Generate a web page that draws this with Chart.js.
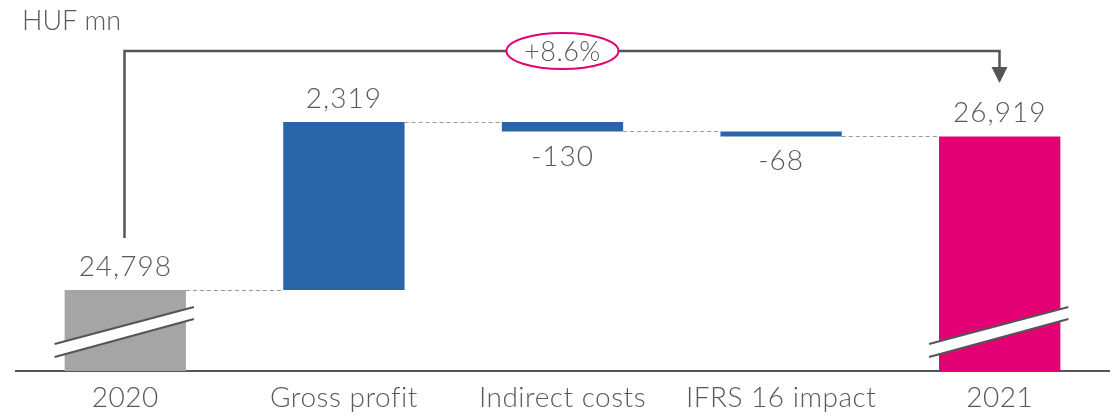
<!DOCTYPE html>
<html><head><meta charset="utf-8">
<script src="https://cdn.jsdelivr.net/npm/chart.js@4"></script>
<style>html,body{margin:0;padding:0;background:#fff}</style>
</head><body>
<canvas id="c" width="1118" height="417"></canvas>
<script>
// ---- data ----
const categories = ['2020', 'Gross profit', 'Indirect costs', 'IFRS 16 impact', '2021'];
const startValue = 24798;
const changes = [2319, -130, -68];
const endValue = 26919;
const valueLabels = ['24,798', '2,319', '-130', '-68', '26,919'];
const growthLabel = '+8.6%';
const unitLabel = 'HUF mn';
const axisMin = 23680;
const axisMax = 28250;

// ---- derived floating bars ----
const floating = [[0, startValue]];
let run = startValue;
changes.forEach(c => { floating.push([run, run + c]); run += c; });
floating.push([0, endValue]);
const levels = [startValue];
{ let r = startValue; changes.forEach(c => { r += c; levels.push(r); }); }

const colors = ['#a5a5a5', '#2965a9', '#2965a9', '#2965a9', '#e20074'];
const TEXT = '#595959';
const LINE = '#555555';
const FAMILY = 'Lato, "Open Sans", sans-serif';
const FONT = '300 28px ' + FAMILY;

const deco = {
  id: 'deco',
  beforeDraw(chart) {
    const ctx = chart.ctx;
    ctx.save(); ctx.fillStyle = '#fff'; ctx.fillRect(0, 0, chart.width, chart.height); ctx.restore();
    ctx.letterSpacing = '0.5px';
  },
  afterDatasetsDraw(chart) {
    const ctx = chart.ctx;
    const ys = chart.scales.y;
    const area = chart.chartArea;
    const bars = chart.getDatasetMeta(0).data;
    ctx.save();
    // connectors
    ctx.strokeStyle = '#9a9a9a'; ctx.lineWidth = 1; ctx.setLineDash([4, 3]);
    for (let i = 0; i < bars.length - 1; i++) {
      const y = Math.round(ys.getPixelForValue(levels[i])) + 0.5;
      ctx.beginPath();
      ctx.moveTo(bars[i].x + bars[i].width / 2, y);
      ctx.lineTo(bars[i + 1].x - bars[i + 1].width / 2, y);
      ctx.stroke();
    }
    ctx.setLineDash([]);
    // break marks
    [0, bars.length - 1].forEach(i => {
      const b = bars[i];
      const x1 = b.x - b.width / 2 - 10, x2 = b.x + b.width / 2 + 8;
      const base = area.bottom;
      const t1 = base - 27, t2 = base - 64, u1 = base - 14, u2 = base - 52;
      ctx.fillStyle = '#fff';
      ctx.beginPath();
      ctx.moveTo(x1, t1); ctx.lineTo(x2, t2); ctx.lineTo(x2, u2); ctx.lineTo(x1, u1); ctx.closePath();
      ctx.fill();
      ctx.strokeStyle = LINE; ctx.lineWidth = 2;
      ctx.beginPath(); ctx.moveTo(x1, t1); ctx.lineTo(x2, t2); ctx.stroke();
      ctx.beginPath(); ctx.moveTo(x1, u1); ctx.lineTo(x2, u2); ctx.stroke();
    });
    // value labels
    ctx.font = FONT; ctx.fillStyle = TEXT; ctx.textAlign = 'center'; ctx.textBaseline = 'middle';
    ctx.letterSpacing = '1px';
    floating.forEach((v, i) => {
      const top = ys.getPixelForValue(Math.max(v[0], v[1]));
      const bot = ys.getPixelForValue(Math.min(v[0], v[1]));
      const neg = i > 0 && i < floating.length - 1 && v[1] < v[0];
      const y = neg ? bot + 25 : top - 23;
      ctx.fillText(valueLabels[i], bars[i].x, y);
    });
    // bracket
    const by = 51;
    const xl = Math.round(bars[0].x) - 0.5;
    const xr = Math.round(bars[bars.length - 1].x) - 0.5;
    const startY = ys.getPixelForValue(startValue) - 52;
    ctx.strokeStyle = LINE; ctx.lineWidth = 2.5;
    ctx.beginPath();
    ctx.moveTo(xl, startY); ctx.lineTo(xl, by); ctx.lineTo(xr, by); ctx.lineTo(xr, 68);
    ctx.stroke();
    ctx.fillStyle = LINE;
    ctx.beginPath(); ctx.moveTo(xr - 8, 67); ctx.lineTo(xr + 8, 67); ctx.lineTo(xr, 83); ctx.closePath(); ctx.fill();
    // ellipse
    const ex = bars[2].x;
    ctx.fillStyle = '#fff'; ctx.strokeStyle = '#e20074'; ctx.lineWidth = 2;
    ctx.beginPath(); ctx.ellipse(ex, by, 56, 18, 0, 0, Math.PI * 2); ctx.fill(); ctx.stroke();
    ctx.fillStyle = TEXT; ctx.font = '300 27px ' + FAMILY; ctx.letterSpacing = '0.5px';
    ctx.fillText(growthLabel, ex, by + 1);
    // unit label
    ctx.font = '300 27px ' + FAMILY; ctx.textAlign = 'left'; ctx.letterSpacing = '0px';
    ctx.fillText(unitLabel, 22, 21);
    ctx.restore();
  }
};

new Chart(document.getElementById('c'), {
  type: 'bar',
  data: {
    labels: categories,
    datasets: [{ data: floating, backgroundColor: colors, borderWidth: 0,
      barPercentage: 0.555, categoryPercentage: 1 }]
  },
  options: {
    responsive: false, animation: false, devicePixelRatio: 1,
    layout: { padding: { left: 16, right: 9, top: 40, bottom: 2 } },
    plugins: { legend: { display: false }, tooltip: { enabled: false }, title: { display: false } },
    scales: {
      x: {
        grid: { display: false, drawTicks: false },
        border: { display: true, color: LINE, width: 2 },
        ticks: { color: TEXT, padding: 10, font: { family: FAMILY, size: 28, weight: '300' } },
        afterFit(scale) { scale.height = 44; }
      },
      y: { display: false, min: axisMin, max: axisMax }
    }
  },
  plugins: [deco]
});
</script>
</body></html>
